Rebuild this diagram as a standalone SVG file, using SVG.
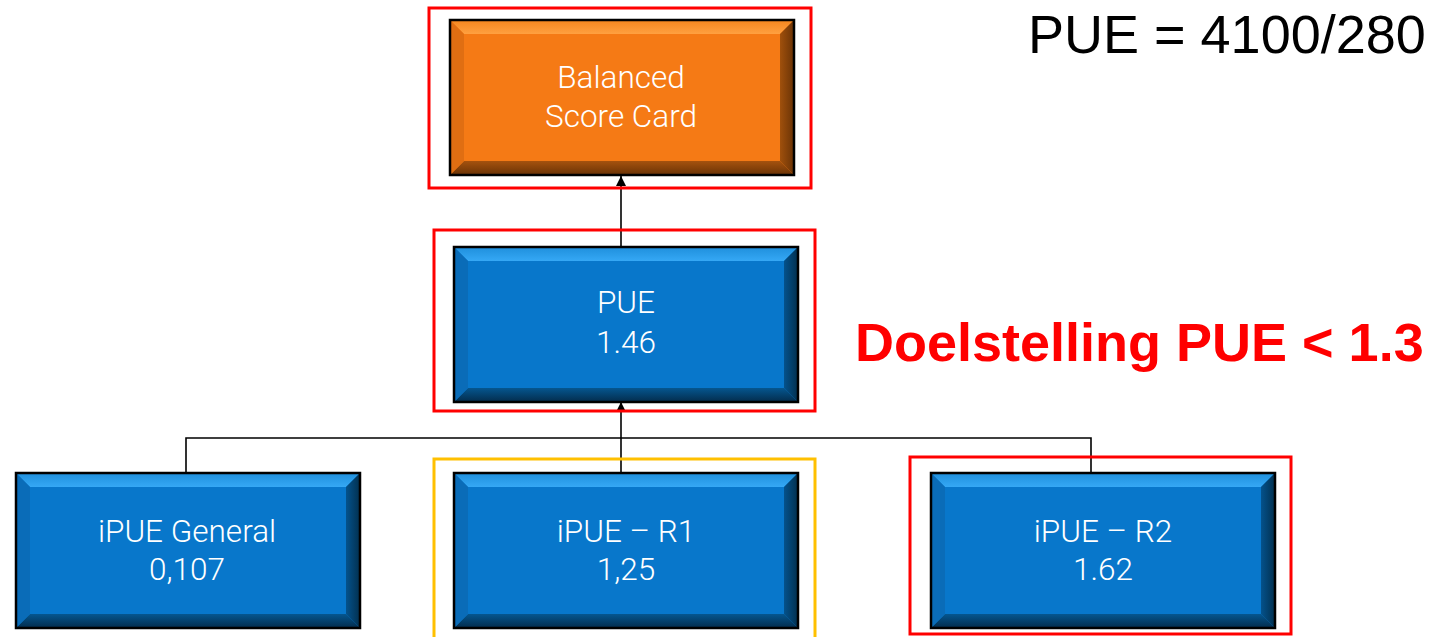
<svg xmlns="http://www.w3.org/2000/svg" xmlns:xlink="http://www.w3.org/1999/xlink" width="1435" height="637" viewBox="0 0 1435 637">
<style>
.lbl{font-family:Roboto,"Liberation Sans",sans-serif;font-weight:300;font-size:31.5px;fill:#fff;text-anchor:middle}
.frame{fill:none;stroke:#ff0000;stroke-width:3}
.conn{fill:none;stroke:#000;stroke-width:1.6}
</style>
<defs>
<linearGradient id="bTop" x1="0" y1="0" x2="0" y2="1"><stop offset="0" stop-color="#1f8fdc"/><stop offset="1" stop-color="#35a8f5"/></linearGradient>
<linearGradient id="bBot" x1="0" y1="0" x2="0" y2="1"><stop offset="0" stop-color="#05568f"/><stop offset="1" stop-color="#032c4c"/></linearGradient>
<linearGradient id="bRight" x1="0" y1="0" x2="1" y2="0"><stop offset="0" stop-color="#04528c"/><stop offset="1" stop-color="#02304f"/></linearGradient>
<linearGradient id="oTop" x1="0" y1="0" x2="0" y2="1"><stop offset="0" stop-color="#f5861e"/><stop offset="1" stop-color="#ffa040"/></linearGradient>
<linearGradient id="oBot" x1="0" y1="0" x2="0" y2="1"><stop offset="0" stop-color="#a5520e"/><stop offset="1" stop-color="#6a3306"/></linearGradient>
<linearGradient id="oRight" x1="0" y1="0" x2="1" y2="0"><stop offset="0" stop-color="#a0500c"/><stop offset="1" stop-color="#6a3306"/></linearGradient>
<g id="blueBox">
<rect x="0" y="0" width="344" height="155" fill="#0877cb"/>
<polygon points="0,0 344,0 330,14 14,14" fill="url(#bTop)"/>
<polygon points="0,155 344,155 330,141 14,141" fill="url(#bBot)"/>
<polygon points="0,0 14,14 14,141 0,155" fill="#0a6cb8"/>
<polygon points="344,0 330,14 330,141 344,155" fill="url(#bRight)"/>
<rect x="0" y="0" width="344" height="155" fill="none" stroke="#000" stroke-width="2.5"/>
</g>
<g id="orangeBox">
<rect x="0" y="0" width="344" height="155" fill="#f57a15"/>
<polygon points="0,0 344,0 330,14 14,14" fill="url(#oTop)"/>
<polygon points="0,155 344,155 330,141 14,141" fill="url(#oBot)"/>
<polygon points="0,0 14,14 14,141 0,155" fill="#e06e12"/>
<polygon points="344,0 330,14 330,141 344,155" fill="url(#oRight)"/>
<rect x="0" y="0" width="344" height="155" fill="none" stroke="#000" stroke-width="2.5"/>
</g>
<marker id="arr" viewBox="0 0 10 10" refX="10" refY="5" markerWidth="10" markerHeight="10" markerUnits="userSpaceOnUse" orient="auto"><path d="M0,0 L10,5 L0,10 z" fill="#000"/></marker>
</defs>
<rect width="1435" height="637" fill="#fff"/>

<g id="connectors">
<line class="conn" x1="621" y1="247" x2="621" y2="176" marker-end="url(#arr)"/>
<line class="conn" x1="621" y1="473" x2="621" y2="402" marker-end="url(#arr)"/>
<polyline class="conn" points="186,473 186,438 1091,438 1091,473"/>
</g>

<g id="node-bsc">
<rect class="frame" x="429" y="8" width="382" height="180"/>
<use xlink:href="#orangeBox" x="450" y="20"/>
<text class="lbl" x="621" y="88">Balanced</text>
<text class="lbl" x="621" y="127">Score Card</text>
</g>

<g id="node-pue">
<rect class="frame" x="434" y="230" width="381" height="181"/>
<use xlink:href="#blueBox" x="454" y="247"/>
<text class="lbl" x="626" y="313">PUE</text>
<text class="lbl" x="626" y="353">1.46</text>
</g>

<g id="node-general">
<use xlink:href="#blueBox" x="16" y="473"/>
<text class="lbl" x="187" y="542">iPUE General</text>
<text class="lbl" x="187" y="580">0,107</text>
</g>

<g id="node-r1">
<rect x="434" y="459" width="381" height="190" fill="none" stroke="#ffc000" stroke-width="3"/>
<use xlink:href="#blueBox" x="454" y="473"/>
<text class="lbl" x="626" y="542">iPUE – R1</text>
<text class="lbl" x="626" y="580">1,25</text>
</g>

<g id="node-r2">
<rect class="frame" x="910" y="457" width="381" height="177"/>
<use xlink:href="#blueBox" x="931" y="473"/>
<text class="lbl" x="1103" y="542">iPUE – R2</text>
<text class="lbl" x="1103" y="580">1.62</text>
</g>

<text x="1028" y="53" font-family="'Liberation Sans',Arial,sans-serif" font-size="54" fill="#000">PUE = 4100/280</text>
<text x="855" y="361" font-family="'Liberation Sans',Arial,sans-serif" font-weight="bold" font-size="54" fill="#ff0000">Doelstelling PUE &lt; 1.3</text>
</svg>
